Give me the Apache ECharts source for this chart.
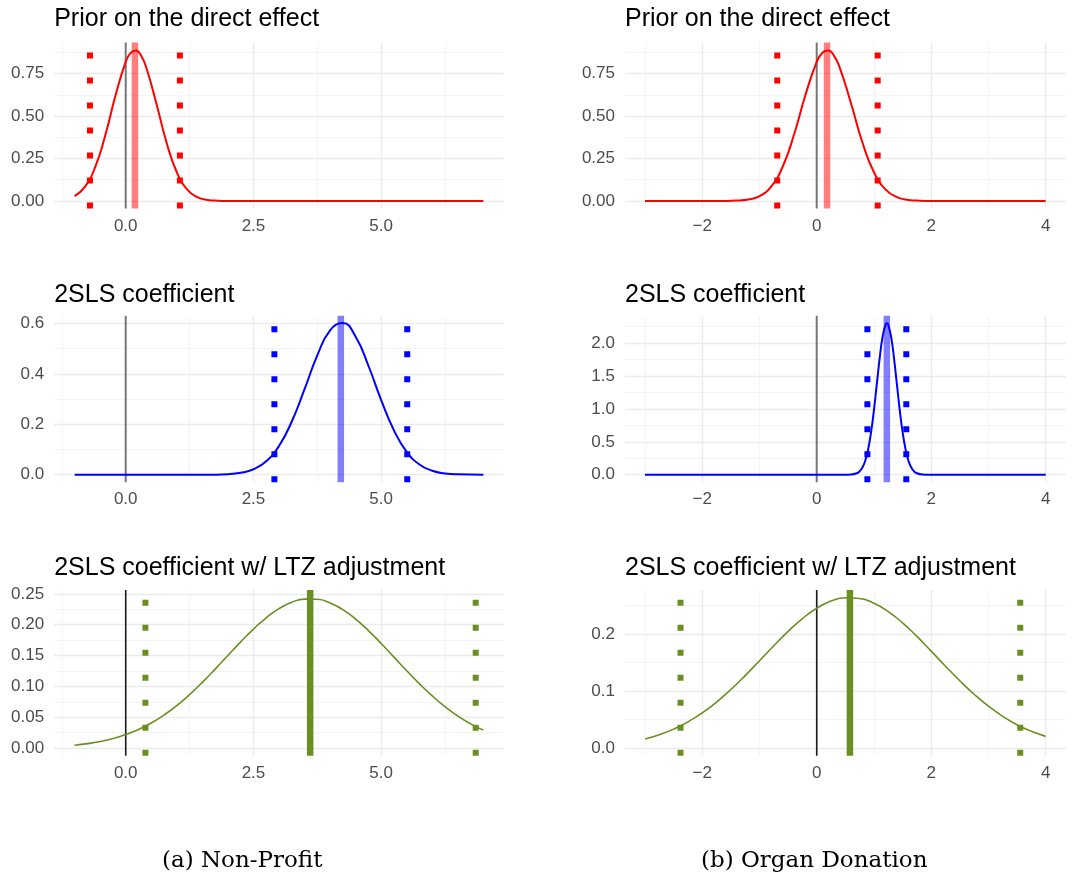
<!DOCTYPE html>
<html>
<head>
<meta charset="utf-8">
<script src="https://cdn.jsdelivr.net/npm/echarts@6/dist/echarts.min.js"></script>
<style>
  html, body { margin: 0; padding: 0; background: #ffffff; }
  #chart { width: 1073px; height: 877px; }
</style>
</head>
<body>
<div id="chart"></div>
<script>
// ---- Density curves (x position, density height) ----
// (a) Non-Profit
const npPriorX = [-1.0, -0.8, -0.6, -0.4, -0.2, 0.0, 0.1, 0.2, 0.3, 0.4, 0.6, 0.8, 1.0, 1.2, 1.4, 1.6, 1.8, 2.0, 2.5, 3, 4, 5, 6, 7];
const npPriorY = [0.0285, 0.0828, 0.1975, 0.3865, 0.621, 0.819, 0.873, 0.886, 0.856, 0.787, 0.574, 0.343, 0.169, 0.068, 0.0225, 0.0061, 0.0014, 0.0002, 0, 0, 0, 0, 0, 0];

const np2slsX = [-1, 0, 1, 1.5, 2, 2.25, 2.5, 2.75, 3, 3.25, 3.5, 3.75, 4, 4.25, 4.5, 4.75, 5, 5.25, 5.5, 5.75, 6, 6.25, 6.5, 7];
const np2slsY = [0, 0, 0, 0.0001, 0.0023, 0.0076, 0.0216, 0.0533, 0.1138, 0.211, 0.339, 0.473, 0.5725, 0.601, 0.547, 0.432, 0.296, 0.176, 0.0907, 0.0406, 0.0157, 0.0053, 0.0015, 0];

const npLtzX = [-1, -0.75, -0.5, -0.25, 0, 0.25, 0.5, 0.75, 1, 1.25, 1.5, 1.75, 2, 2.25, 2.5, 2.75, 3, 3.25, 3.5, 3.75, 4, 4.25, 4.5, 4.75, 5, 5.25, 5.5, 5.75, 6, 6.25, 6.5, 6.75, 7];
const npLtzY = [0.0048, 0.0073, 0.0108, 0.0156, 0.022, 0.0303, 0.0408, 0.0537, 0.069, 0.0868, 0.1066, 0.128, 0.1502, 0.1722, 0.1929, 0.2112, 0.226, 0.2363, 0.2415, 0.2411, 0.2353, 0.2244, 0.2092, 0.1905, 0.1696, 0.1475, 0.1254, 0.1042, 0.0846, 0.0671, 0.052, 0.0394, 0.0292];

// (b) Organ Donation
const ogPriorX = [-3, -2.5, -2, -1.6, -1.4, -1.2, -1.0, -0.8, -0.6, -0.4, -0.2, 0.0, 0.1, 0.2, 0.3, 0.4, 0.6, 0.8, 1.0, 1.2, 1.4, 1.6, 1.8, 2.0, 2.5, 3, 4];
const ogPriorY = [0, 0, 0, 0.0003, 0.0019, 0.0081, 0.0285, 0.0828, 0.1975, 0.3865, 0.621, 0.819, 0.873, 0.886, 0.856, 0.787, 0.574, 0.343, 0.169, 0.068, 0.0225, 0.0061, 0.0014, 0.0002, 0, 0, 0];

const og2slsX = [-3, -2, -1, 0, 0.5, 0.6, 0.7, 0.75, 0.8, 0.85, 0.9, 0.95, 1.0, 1.05, 1.1, 1.15, 1.2, 1.225, 1.25, 1.3, 1.35, 1.4, 1.45, 1.5, 1.55, 1.6, 1.65, 1.7, 1.75, 1.85, 1.95, 2.5, 3, 4];
const og2slsY = [0, 0, 0, 0, 0.0004, 0.0034, 0.023, 0.053, 0.1125, 0.2196, 0.394, 0.65, 0.987, 1.379, 1.772, 2.094, 2.276, 2.30, 2.276, 2.094, 1.772, 1.379, 0.987, 0.65, 0.394, 0.2196, 0.1125, 0.053, 0.023, 0.0034, 0.0004, 0, 0, 0];

const ogLtzX = [-3, -2.75, -2.5, -2.25, -2, -1.75, -1.5, -1.25, -1, -0.75, -0.5, -0.25, 0, 0.25, 0.5, 0.75, 1, 1.25, 1.5, 1.75, 2, 2.25, 2.5, 2.75, 3, 3.25, 3.5, 3.75, 4];
const ogLtzY = [0.0161, 0.0235, 0.0333, 0.0459, 0.0617, 0.0806, 0.1026, 0.1269, 0.1529, 0.1792, 0.2043, 0.2267, 0.2448, 0.2573, 0.2631, 0.2618, 0.2535, 0.2389, 0.2191, 0.1955, 0.1697, 0.1434, 0.1179, 0.0943, 0.0734, 0.0557, 0.041, 0.0294, 0.0206];

// ---- Point estimates and interval bounds (prior, 2SLS, 2SLS w/ LTZ) ----
const npMean = [0.18, 4.21, 3.61];
const npLow = [-0.70, 2.91, 0.385];
const npHigh = [1.06, 5.51, 6.85];
const ogMean = [0.18, 1.225, 0.58];
const ogLow = [-0.69, 0.885, -2.38];
const ogHigh = [1.065, 1.565, 3.556];

// ---- Axis ranges ----
const npXRange = [-1.4, 7.4];
const ogXRange = [-3.35, 4.35];
const npYMin = [-0.0445, -0.03, -0.0122];
const npYMax = [0.933, 0.63, 0.2562];
const ogYMin = [-0.0445, -0.115, -0.0132];
const ogYMax = [0.933, 2.415, 0.2767];

// ---- Tick values and labels ----
const npXTicks = [0, 2.5, 5];
const npXLabels = ['0.0', '2.5', '5.0'];
const npXMinor = [-1.25, 1.25, 3.75, 6.25];
const ogXTicks = [-2, 0, 2, 4];
const ogXLabels = ['\u22122', '0', '2', '4'];
const ogXMinor = [-3, -1, 1, 3];

const priorYTicks = [0, 0.25, 0.5, 0.75];
const priorYLabels = ['0.00', '0.25', '0.50', '0.75'];
const priorYMinor = [0.125, 0.375, 0.625, 0.875];
const np2slsYTicks = [0, 0.2, 0.4, 0.6];
const np2slsYLabels = ['0.0', '0.2', '0.4', '0.6'];
const np2slsYMinor = [0.1, 0.3, 0.5];
const og2slsYTicks = [0, 0.5, 1, 1.5, 2];
const og2slsYLabels = ['0.0', '0.5', '1.0', '1.5', '2.0'];
const og2slsYMinor = [0.25, 0.75, 1.25, 1.75, 2.25];
const npLtzYTicks = [0, 0.05, 0.1, 0.15, 0.2, 0.25];
const npLtzYLabels = ['0.00', '0.05', '0.10', '0.15', '0.20', '0.25'];
const npLtzYMinor = [0.025, 0.075, 0.125, 0.175, 0.225];
const ogLtzYTicks = [0, 0.1, 0.2];
const ogLtzYLabels = ['0.0', '0.1', '0.2'];
const ogLtzYMinor = [0.05, 0.15, 0.25];

const panelTitles = ['Prior on the direct effect', '2SLS coefficient', '2SLS coefficient w/ LTZ adjustment'];
const captions = ['(a) Non-Profit', '(b) Organ Donation'];

// ---- Layout and styling ----
const SANS = '"Liberation Sans", Arial, Helvetica, sans-serif';
const colBox = [{ left: 54.2, width: 449.6 }, { left: 625, width: 440.7 }];
const rowBox = [{ top: 42.5, height: 166 }, { top: 315.8, height: 166.5 }, { top: 590, height: 165.7 }];
const titleTop = [7, 282.5, 555.5];
const rowStyle = [
  { line: '#ff0000', band: 'rgba(255,0,0,0.5)', zero: 'rgba(0,0,0,0.5)', curveW: 2 },
  { line: '#0000ff', band: 'rgba(0,0,255,0.5)', zero: 'rgba(0,0,0,0.5)', curveW: 2 },
  { line: '#6b8e23', band: '#6b8e23', zero: '#1a1a1a', curveW: 1.6 }
];

const columns = [
  {
    xRange: npXRange, xTicks: npXTicks, xLabels: npXLabels, xMinor: npXMinor,
    curves: [[npPriorX, npPriorY], [np2slsX, np2slsY], [npLtzX, npLtzY]],
    mean: npMean, low: npLow, high: npHigh, yMin: npYMin, yMax: npYMax,
    yTicks: [priorYTicks, np2slsYTicks, npLtzYTicks],
    yLabels: [priorYLabels, np2slsYLabels, npLtzYLabels],
    yMinor: [priorYMinor, np2slsYMinor, npLtzYMinor]
  },
  {
    xRange: ogXRange, xTicks: ogXTicks, xLabels: ogXLabels, xMinor: ogXMinor,
    curves: [[ogPriorX, ogPriorY], [og2slsX, og2slsY], [ogLtzX, ogLtzY]],
    mean: ogMean, low: ogLow, high: ogHigh, yMin: ogYMin, yMax: ogYMax,
    yTicks: [priorYTicks, og2slsYTicks, ogLtzYTicks],
    yLabels: [priorYLabels, og2slsYLabels, ogLtzYLabels],
    yMinor: [priorYMinor, og2slsYMinor, ogLtzYMinor]
  }
];

function labelFor(ticks, labels) {
  return function (v) {
    let best = 0;
    for (let i = 1; i < ticks.length; i++) {
      if (Math.abs(ticks[i] - v) < Math.abs(ticks[best] - v)) best = i;
    }
    return labels[best];
  };
}

const grids = [], xAxes = [], yAxes = [], series = [], titles = [];
const majorGrid = { color: '#ebebeb', width: 1.4 };
const minorGrid = { color: '#f3f3f3', width: 0.9 };

columns.forEach(function (col, c) {
  rowBox.forEach(function (rb, r) {
    const g = grids.length;
    grids.push({ left: colBox[c].left, width: colBox[c].width, top: rb.top, height: rb.height, containLabel: false });
    titles.push({
      text: panelTitles[r], left: colBox[c].left, top: titleTop[r], padding: 0,
      textStyle: { fontFamily: SANS, fontSize: 25, fontWeight: 'normal', color: '#000000' }
    });

    const xMajorIdx = xAxes.length;
    xAxes.push({
      gridIndex: g, type: 'value', min: col.xRange[0], max: col.xRange[1], position: 'bottom',
      axisLine: { show: false },
      axisTick: { show: false, customValues: col.xTicks },
      axisLabel: { customValues: col.xTicks, formatter: labelFor(col.xTicks, col.xLabels), color: '#4d4d4d', fontFamily: SANS, fontSize: 17, margin: 9 },
      splitLine: { show: true, lineStyle: majorGrid }
    });
    xAxes.push({
      gridIndex: g, type: 'value', min: col.xRange[0], max: col.xRange[1], position: 'top',
      axisLine: { show: false }, axisLabel: { show: false },
      axisTick: { show: false, customValues: col.xMinor },
      splitLine: { show: true, lineStyle: minorGrid }
    });

    const yMajorIdx = yAxes.length;
    const ymin = col.yMin[r], ymax = col.yMax[r];
    yAxes.push({
      gridIndex: g, type: 'value', min: ymin, max: ymax, position: 'left',
      axisLine: { show: false },
      axisTick: { show: false, customValues: col.yTicks[r] },
      axisLabel: { customValues: col.yTicks[r], formatter: labelFor(col.yTicks[r], col.yLabels[r]), color: '#4d4d4d', fontFamily: SANS, fontSize: 17, margin: 10 },
      splitLine: { show: true, lineStyle: majorGrid }
    });
    yAxes.push({
      gridIndex: g, type: 'value', min: ymin, max: ymax, position: 'right',
      axisLine: { show: false }, axisLabel: { show: false },
      axisTick: { show: false, customValues: col.yMinor[r] },
      splitLine: { show: true, lineStyle: minorGrid }
    });

    const st = rowStyle[r];
    const base = { xAxisIndex: xMajorIdx, yAxisIndex: yMajorIdx, type: 'line', symbol: 'none', silent: true, animation: false, clip: true };

    // reference line at zero
    series.push(Object.assign({}, base, {
      data: [[0, ymin], [0, ymax]],
      lineStyle: { color: st.zero, width: r === 2 ? 1.6 : 2 }
    }));
    // point estimate
    series.push(Object.assign({}, base, {
      data: [[col.mean[r], ymin], [col.mean[r], ymax]],
      lineStyle: { color: st.band, width: 6.5, cap: 'butt' }
    }));
    // interval bounds (dotted)
    [col.low[r], col.high[r]].forEach(function (b) {
      series.push(Object.assign({}, base, {
        data: [[b, ymin], [b, ymax]],
        lineStyle: { color: st.line, width: 6, type: [6, 19], cap: 'butt' }
      }));
    });
    // density curve
    const xs = col.curves[r][0], ys = col.curves[r][1];
    series.push(Object.assign({}, base, {
      data: xs.map(function (x, i) { return [x, ys[i]]; }),
      smooth: 0.5,
      lineStyle: { color: st.line, width: st.curveW, join: 'round' }
    }));
  });
});

const chart = echarts.init(document.getElementById('chart'), null, { renderer: 'canvas' });
chart.setOption({
  backgroundColor: '#ffffff',
  animation: false,
  title: titles,
  grid: grids,
  xAxis: xAxes,
  yAxis: yAxes,
  series: series,
  graphic: [
    { type: 'text', left: 162, top: 850, style: { text: captions[0], font: '23px "DejaVu Serif", "Liberation Serif", serif', fill: '#000000' } },
    { type: 'text', left: 701, top: 850, style: { text: captions[1], font: '23px "DejaVu Serif", "Liberation Serif", serif', fill: '#000000' } }
  ]
});
</script>
</body>
</html>
